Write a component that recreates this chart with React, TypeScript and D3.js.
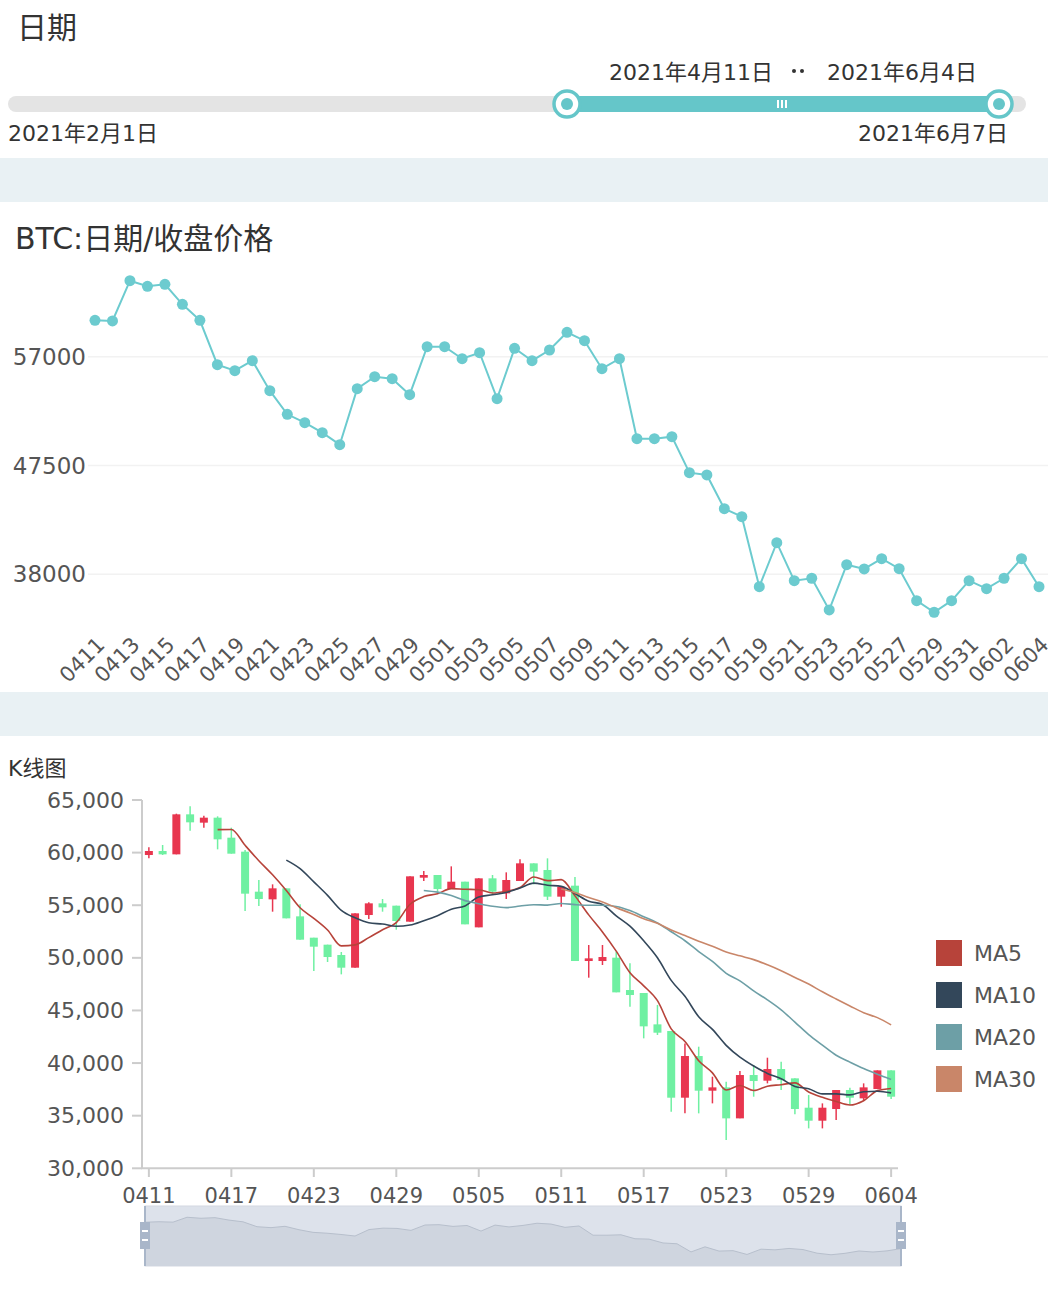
import React from 'react';
import * as d3 from 'd3';

const FONT = "'DejaVu Sans', 'Noto Sans CJK SC', sans-serif";

const dates = [
  '0411', '0412', '0413', '0414', '0415', '0416', '0417', '0418', '0419', '0420',
  '0421', '0422', '0423', '0424', '0425', '0426', '0427', '0428', '0429', '0430',
  '0501', '0502', '0503', '0504', '0505', '0506', '0507', '0508', '0509', '0510',
  '0511', '0512', '0513', '0514', '0515', '0516', '0517', '0518', '0519', '0520',
  '0521', '0522', '0523', '0524', '0525', '0526', '0527', '0528', '0529', '0530',
  '0531', '0601', '0602', '0603', '0604',
];

// closing price shown in the line chart
const lineClose = [
  60180, 60120, 63635, 63146, 63321, 61575, 60178, 56302, 55778, 56651,
  54032, 51972, 51238, 50365, 49318, 54206, 55254, 55079, 53683, 57873,
  57873, 56825, 57349, 53333, 57733, 56651, 57585, 59130, 58397, 55952,
  56825, 49841, 49841, 50016, 46873, 46672, 43730, 43032, 36921, 40762,
  37445, 37654, 34887, 38842, 38466, 39365, 38492, 35699, 34686, 35699,
  37445, 36746, 37654, 39365, 36921,
];

// candlestick values
const candleOpen = [
  59773, 60153, 59836, 63638, 62846, 63321, 61420, 60089, 56288, 55559,
  56605, 53943, 51916, 51251, 50269, 49065, 54070, 55179, 54957, 53437,
  57618, 57872, 56541, 57238, 52898, 57555, 56129, 57301, 58981, 58347,
  55813, 56858, 49699, 49699, 50015, 46942, 46657, 43679, 43046, 36710,
  40670, 37375, 37692, 34745, 38864, 38326, 39434, 38547, 35759, 34524,
  35633, 37439, 36647, 37534, 39307,
];
const candleClose = [
  60153, 59836, 63638, 62877, 63321, 61262, 59899, 56098, 55591, 56605,
  53754, 51726, 51061, 50078, 49065, 54229, 55179, 54799, 53500, 57745,
  57872, 56541, 57238, 53183, 57555, 56288, 57397, 58981, 58189, 55813,
  56763, 49699, 49952, 50078, 46720, 46467, 43489, 42887, 36710, 40670,
  37375, 37692, 34745, 38864, 38294, 39434, 38389, 35633, 34524, 35759,
  37439, 36710, 37692, 39307, 36805,
];
const candleLow = [
  59456, 59773, 59836, 62085, 62370, 60311, 59899, 54450, 54926, 54387,
  53754, 51726, 48748, 49603, 48431, 49065, 53690, 54387, 52676, 53437,
  57301, 56288, 56541, 53183, 52898, 55971, 55591, 57301, 56985, 55496,
  54862, 49699, 48115, 49318, 46720, 45358, 42349, 42665, 35379, 35221,
  35221, 36171, 32686, 34745, 36805, 38072, 37439, 35126, 33795, 33795,
  34587, 36013, 36393, 37534, 36583,
];
const candleHigh = [
  60501, 60723, 63700, 64398, 63511, 63448, 62370, 60248, 57397, 56985,
  56605, 55084, 51916, 51251, 50553, 54229, 55274, 55591, 54957, 57745,
  58252, 57872, 58695, 57238, 57555, 57872, 58125, 59361, 58981, 59456,
  56763, 57682, 51219, 51219, 50585, 49477, 46657, 45517, 43046, 41871,
  41557, 38705, 38230, 39244, 39814, 40511, 40131, 38547, 36963, 36171,
  37439, 37660, 38072, 39307, 39307,
];

const lineTicks = [38000, 47500, 57000];
const kTicks = [30000, 35000, 40000, 45000, 50000, 55000, 60000, 65000];
const maPeriods = [5, 10, 20, 30];
const maNames = ['MA5', 'MA10', 'MA20', 'MA30'];
const maColors = ['#b7433a', '#33475a', '#6d9fa6', '#c98669'];

const topTitle = '日期';
const rangeStartLabel = '2021年4月11日';
const rangeEndLabel = '2021年6月4日';
const fullStartLabel = '2021年2月1日';
const fullEndLabel = '2021年6月7日';
const lineTitle = 'BTC:日期/收盘价格';
const kTitle = 'K线图';

const TEAL = '#65c6c9';
const LINE_TEAL = '#6ccbcf';
const UP = '#e8364f';
const DOWN = '#6ff0a2';
const TEXT = '#555';
const TITLE = '#333';
const BAND = '#e9f1f4';

function movingAverage(values: number[], n: number): (number | null)[] {
  return values.map((_, i) => (i < n ? null : (d3.mean(values.slice(i - n + 1, i + 1)) as number)));
}

export default function App() {
  // line chart scales
  const xLine = d3.scalePoint<string>().domain(dates).range([95, 1039]);
  const yLine = d3.scaleLinear().domain([38000, 57000]).range([574.3, 356.7]);
  const linePath = d3
    .line<number>()
    .x((_, i) => xLine(dates[i]) as number)
    .y((v) => yLine(v))(lineClose) as string;

  // candlestick scales
  const xK = d3.scaleBand<string>().domain(dates).range([142, 898]);
  const bw = xK.bandwidth();
  const cx = (d: string) => (xK(d) as number) + bw / 2;
  const yK = d3.scaleLinear().domain([30000, 65000]).range([1168.3, 800]);

  const maSeries = maPeriods.map((p) => movingAverage(candleClose, p));
  const maLine = d3
    .line<number | null>()
    .defined((v) => v != null)
    .x((_, i) => cx(dates[i]))
    .y((v) => yK(v as number))
    .curve(d3.curveMonotoneX);

  // data zoom
  const xZ = d3.scalePoint<string>().domain(dates).range([145, 901]);
  const [oMin, oMax] = d3.extent(candleOpen) as [number, number];
  const pad = (oMax - oMin) * 0.3;
  const yZ = d3.scaleLinear().domain([oMin - pad, oMax + pad]).range([1266, 1206]);
  const zLine = d3
    .line<number>()
    .x((_, i) => xZ(dates[i]) as number)
    .y((v) => yZ(v))(candleOpen) as string;
  const zArea = d3
    .area<number>()
    .x((_, i) => xZ(dates[i]) as number)
    .y0(1266)
    .y1((v) => yZ(v))(candleOpen) as string;

  return (
    <div style={{ position: 'absolute', left: 0, top: 0 }}>
      <svg width={1048} height={1294} style={{ display: 'block', fontFamily: FONT }}>
        <rect x={0} y={0} width={1048} height={1294} fill="#fff" />

        {/* ---------- range slider ---------- */}
        <text x={17} y={27} fontSize={30} fill={TITLE} dominantBaseline="central">
          {topTitle}
        </text>
        <text x={773} y={72} fontSize={22} fill={TITLE} textAnchor="end" dominantBaseline="central">
          {rangeStartLabel}
        </text>
        <circle cx={794} cy={71} r={2} fill={TITLE} />
        <circle cx={802} cy={71} r={2} fill={TITLE} />
        <text x={827} y={72} fontSize={22} fill={TITLE} dominantBaseline="central">
          {rangeEndLabel}
        </text>
        <rect x={8} y={96} width={1018} height={16} rx={8} fill="#e4e4e4" />
        <rect x={567} y={96} width={432} height={16} fill={TEAL} />
        {[-4, 0, 4].map((d) => (
          <rect key={d} x={782 + d - 1} y={100} width={2} height={8} fill="#fff" />
        ))}
        {[567, 999].map((x) => (
          <g key={x}>
            <circle cx={x} cy={104} r={13} fill="#fff" stroke={TEAL} strokeWidth={3.5} />
            <circle cx={x} cy={104} r={6} fill={TEAL} />
          </g>
        ))}
        <text x={8} y={133} fontSize={22} fill={TITLE} dominantBaseline="central">
          {fullStartLabel}
        </text>
        <text x={1008} y={133} fontSize={22} fill={TITLE} textAnchor="end" dominantBaseline="central">
          {fullEndLabel}
        </text>

        <rect x={0} y={158} width={1048} height={44} fill={BAND} />

        {/* ---------- line chart ---------- */}
        <text x={15} y={238} fontSize={30} fill={TITLE} dominantBaseline="central">
          {lineTitle}
        </text>
        {lineTicks.map((t) => (
          <g key={t}>
            <line x1={88} x2={1048} y1={yLine(t)} y2={yLine(t)} stroke="#f2f2f2" strokeWidth={1.5} />
            <text x={86} y={yLine(t)} fontSize={23} fill={TEXT} textAnchor="end" dominantBaseline="central">
              {t}
            </text>
          </g>
        ))}
        <path d={linePath} fill="none" stroke={LINE_TEAL} strokeWidth={2} />
        {lineClose.map((v, i) => (
          <circle key={i} cx={xLine(dates[i])} cy={yLine(v)} r={5.5} fill={LINE_TEAL} />
        ))}
        {dates
          .filter((_, i) => i % 2 === 0)
          .map((d) => {
            const x = (xLine(d) as number) + 11;
            return (
              <text
                key={d}
                x={0}
                y={0}
                transform={`translate(${x},646) rotate(-45)`}
                fontSize={21}
                fill={TEXT}
                textAnchor="end"
              >
                {d}
              </text>
            );
          })}

        <rect x={0} y={692} width={1048} height={44} fill={BAND} />

        {/* ---------- candlestick chart ---------- */}
        <text x={8} y={768} fontSize={22} fill={TITLE} dominantBaseline="central">
          {kTitle}
        </text>
        {kTicks.map((t) => (
          <g key={t}>
            <line x1={132} x2={142} y1={yK(t)} y2={yK(t)} stroke="#ccc" strokeWidth={2} />
            <text x={124} y={yK(t)} fontSize={22} fill={TEXT} textAnchor="end" dominantBaseline="central">
              {d3.format(',')(t)}
            </text>
          </g>
        ))}
        <line x1={142} x2={142} y1={800} y2={1169} stroke="#ccc" strokeWidth={2} />
        <line x1={141} x2={898} y1={1168.3} y2={1168.3} stroke="#ccc" strokeWidth={2} />
        {dates
          .filter((_, i) => i % 6 === 0)
          .map((d) => (
            <g key={d}>
              <line x1={cx(d)} x2={cx(d)} y1={1168} y2={1177} stroke="#ccc" strokeWidth={2} />
              <text x={cx(d)} y={1196} fontSize={21} fill={TEXT} textAnchor="middle" dominantBaseline="central">
                {d}
              </text>
            </g>
          ))}

        {dates.map((d, i) => {
          const o = candleOpen[i];
          const c = candleClose[i];
          const color = c >= o ? UP : DOWN;
          const yTop = yK(Math.max(o, c));
          const yBot = yK(Math.min(o, c));
          return (
            <g key={d}>
              <line x1={cx(d)} x2={cx(d)} y1={yK(candleHigh[i])} y2={yK(candleLow[i])} stroke={color} strokeWidth={1.5} />
              <rect x={cx(d) - 4} y={yTop} width={8} height={Math.max(1.5, yBot - yTop)} fill={color} />
            </g>
          );
        })}

        {maSeries.map((s, k) => (
          <path key={k} d={maLine(s) as string} fill="none" stroke={maColors[k]} strokeWidth={1.6} />
        ))}

        {maNames.map((n, k) => (
          <g key={n}>
            <rect x={936} y={940 + k * 42} width={26} height={26} fill={maColors[k]} />
            <text x={974} y={953 + k * 42} fontSize={22} fill={TEXT} dominantBaseline="central">
              {n}
            </text>
          </g>
        ))}

        {/* ---------- data zoom ---------- */}
        <rect x={145} y={1206} width={756} height={60} fill="#dde2eb" stroke="#d3d8e1" strokeWidth={1} />
        <path d={zArea} fill="#cfd5df" />
        <path d={zLine} fill="none" stroke="#b7bfcc" strokeWidth={1} />
        {[145, 901].map((x) => (
          <g key={x}>
            <line x1={x} x2={x} y1={1206} y2={1266} stroke="#a9b6c9" strokeWidth={2} />
            <rect x={x - 5} y={1222} width={10} height={27} fill="#a9b6c9" />
            <rect x={x - 3} y={1230} width={6} height={2} fill="#fff" />
            <rect x={x - 3} y={1239} width={6} height={2} fill="#fff" />
          </g>
        ))}
      </svg>
    </div>
  );
}
